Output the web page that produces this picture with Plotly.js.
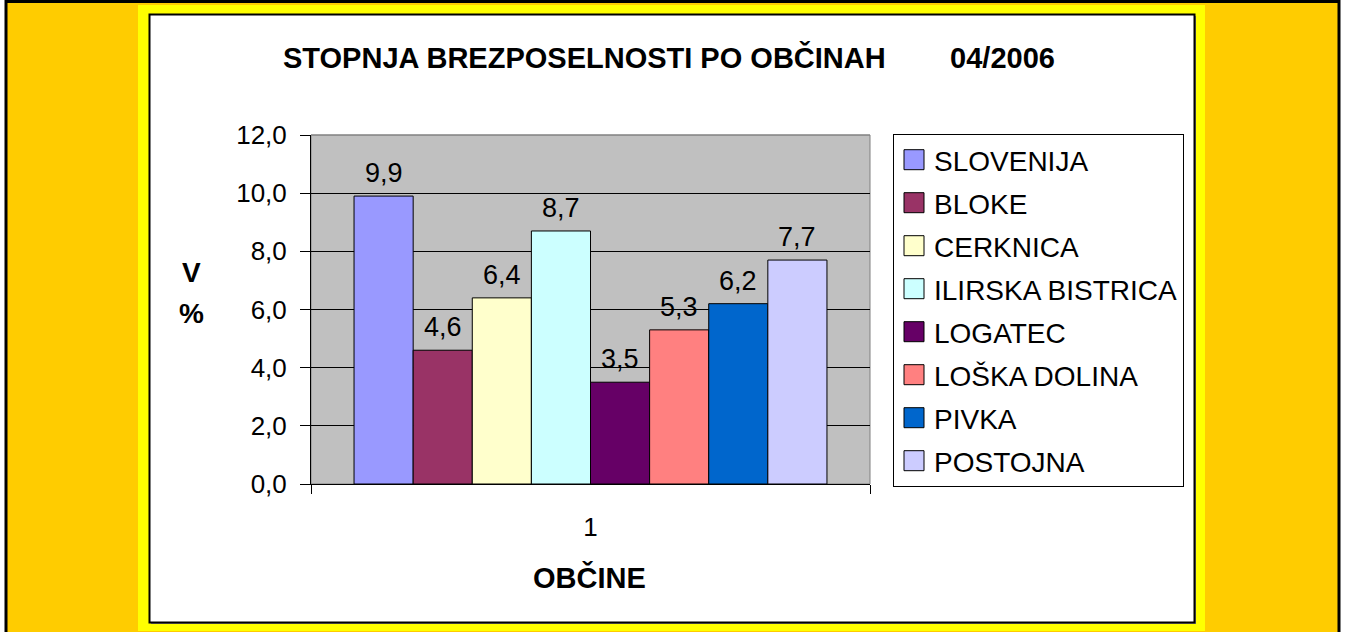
<!DOCTYPE html>
<html>
<head>
<meta charset="utf-8">
<script src="https://cdn.plot.ly/plotly-3.0.1.min.js"></script>
<style>html,body{margin:0;padding:0;background:#fff}#chart{width:1345px;height:632px}</style>
</head>
<body>
<div id="chart"></div>
<script>
// ---- data ----
const categories = ['1'];
const seriesNames = ['SLOVENIJA', 'BLOKE', 'CERKNICA', 'ILIRSKA BISTRICA', 'LOGATEC', 'LOŠKA DOLINA', 'PIVKA', 'POSTOJNA'];
const seriesValues = [9.9, 4.6, 6.4, 8.7, 3.5, 5.3, 6.2, 7.7];
const seriesColors = ['#9999FF', '#993366', '#FFFFCC', '#CCFFFF', '#660066', '#FF8080', '#0066CC', '#CCCCFF'];
const yTickVals = [0, 2, 4, 6, 8, 10, 12];
const titleMain = 'STOPNJA BREZPOSELNOSTI PO OBČINAH';
const titleDate = '04/2006';
const xTitle = 'OBČINE';
const yTitleLines = ['V', '%'];

// ---- geometry ----
const W = 1345, H = 632;
const L = 311, R = 870, T = 135, B = 484;
const px = x => (x - L) / (R - L);
const py = y => (B - y) / (B - T);
const FONT = 'Liberation Sans, Arial, sans-serif';
const BARGAP = 0.154;

const traces = seriesNames.map((name, i) => ({
  type: 'bar',
  name: name,
  x: categories,
  y: [seriesValues[i]],
  legendgroup: 'g' + i,
  marker: {color: seriesColors[i], line: {color: '#000000', width: 1}},
  hoverinfo: 'skip'
}));

const n = seriesNames.length;
const groupW = 1 - BARGAP;
const barW = groupW / n;
const labelAnns = seriesValues.map((v, i) => ({
  xref: 'x', yref: 'y',
  x: -groupW / 2 + (i + 0.5) * barW,
  y: v,
  text: v.toFixed(1).replace('.', ','),
  showarrow: false,
  yanchor: 'bottom',
  yshift: 6,
  font: {family: FONT, size: 27, color: '#000'}
}));

const boldFont = {family: FONT, size: 28, color: '#000'};
const otherAnns = [
  {xref: 'paper', yref: 'paper', x: px(191), y: py(272), text: '<b>' + yTitleLines[0] + '</b>', showarrow: false,
   xanchor: 'center', yanchor: 'middle', font: boldFont},
  {xref: 'paper', yref: 'paper', x: px(191), y: py(313), text: '<b>' + yTitleLines[1] + '</b>', showarrow: false,
   xanchor: 'center', yanchor: 'middle', font: boldFont},
  {xref: 'paper', yref: 'paper', x: px(589), y: py(577), text: '<b>' + xTitle + '</b>', showarrow: false,
   xanchor: 'center', yanchor: 'middle', font: {family: FONT, size: 29, color: '#000'}}
];

const shapes = [
  {type: 'rect', xref: 'paper', yref: 'paper', layer: 'below',
   x0: px(6), x1: px(1339), y0: py(1.5), y1: py(660), fillcolor: '#FFCC00', line: {color: '#000', width: 3}},
  {type: 'rect', xref: 'paper', yref: 'paper', layer: 'below',
   x0: px(138), x1: px(1205), y0: py(5), y1: py(631), fillcolor: '#FFFF00', line: {width: 0}},
  {type: 'rect', xref: 'paper', yref: 'paper', layer: 'below',
   x0: px(151), x1: px(1196), y0: py(16), y1: py(624), fillcolor: '#808080', line: {width: 0}},
  {type: 'rect', xref: 'paper', yref: 'paper', layer: 'below',
   x0: px(149.5), x1: px(1194.5), y0: py(14.5), y1: py(622.5), fillcolor: '#FFFFFF', line: {color: '#000', width: 2}},
  {type: 'rect', xref: 'paper', yref: 'paper', layer: 'below',
   x0: 0, x1: 1, y0: 0, y1: 1, fillcolor: '#C0C0C0', line: {color: '#808080', width: 1}},
  {type: 'line', xref: 'paper', yref: 'paper', layer: 'above',
   x0: 0, x1: 1, y0: 1, y1: 1, line: {color: '#808080', width: 1}}
];

const layout = {
  width: W, height: H,
  margin: {l: L, r: W - R, t: T, b: H - B, pad: 0},
  paper_bgcolor: '#FFFFFF',
  plot_bgcolor: 'rgba(0,0,0,0)',
  separators: ',.',
  barmode: 'group',
  bargap: BARGAP,
  bargroupgap: 0,
  font: {family: FONT, color: '#000'},
  title: {
    text: '<b>' + titleMain + '\u00A0'.repeat(8) + titleDate + '</b>',
    xref: 'container', yref: 'container',
    x: 669 / W, xanchor: 'center',
    y: 1 - 58 / H, yanchor: 'middle',
    font: {family: FONT, size: 29, color: '#000'}
  },
  xaxis: {
    type: 'category',
    range: [-0.5, 0.5],
    tickson: 'boundaries',
    ticks: 'outside', ticklen: 9, tickcolor: '#000', tickwidth: 1,
    showline: true, linecolor: '#000', linewidth: 1,
    showgrid: false, zeroline: false,
    tickfont: {family: FONT, size: 26, color: '#000'},
    ticklabelstandoff: 20,
    fixedrange: true
  },
  yaxis: {
    range: [0, 12],
    tickvals: yTickVals,
    tickformat: '.1f',
    ticks: 'outside', ticklen: 10, tickcolor: '#000', tickwidth: 1,
    showline: true, linecolor: '#000', linewidth: 1,
    showgrid: true, gridcolor: '#000', gridwidth: 1,
    zeroline: false,
    tickfont: {family: FONT, size: 26, color: '#000'},
    ticklabelstandoff: 8,
    fixedrange: true
  },
  legend: {
    x: px(893), xanchor: 'left',
    y: py(134), yanchor: 'top',
    bgcolor: '#FFFFFF', bordercolor: '#000', borderwidth: 1,
    traceorder: 'grouped',
    tracegroupgap: 3.6,
    maxheight: 420,
    font: {family: FONT, size: 28, color: '#000'}
  },
  shapes: shapes,
  annotations: labelAnns.concat(otherAnns),
  showlegend: true
};

Plotly.newPlot('chart', traces, layout, {displayModeBar: false, staticPlot: true}).then(() => {
  // enlarge legend swatches to match the reference's bigger squares
  document.querySelectorAll('.legendpoints path').forEach(p => {
    p.setAttribute('d', 'M10,10H-10V-10H10Z');
  });
});
</script>
</body>
</html>
